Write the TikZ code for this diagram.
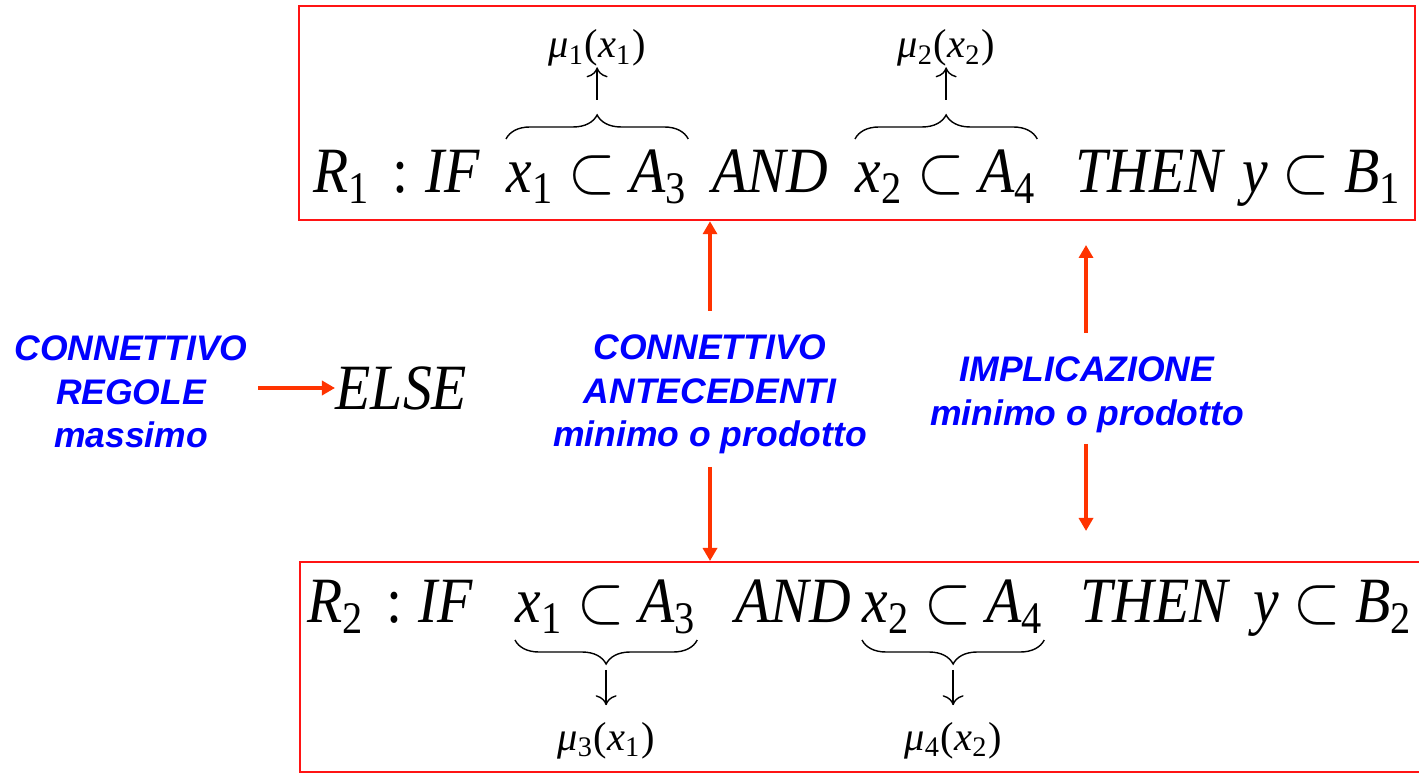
\documentclass[tikz,border=0pt]{standalone}
\usepackage{fontspec}
\setmainfont{Liberation Serif}
\newfontfamily\notesans{Liberation Sans}
\usetikzlibrary{arrows.meta,decorations.pathreplacing}

\definecolor{boxred}{RGB}{255,20,20}
\definecolor{arrowred}{RGB}{255,51,0}
\definecolor{noteblue}{RGB}{0,0,255}

\newcommand{\ix}[1]{\textsubscript{\upshape #1}}
\newcommand{\tallform}[1]{\scalebox{1}[1.12]{#1}}
\newcommand{\formfont}{\fontsize{16.4}{20}\selectfont\itshape}
\newcommand{\membfont}{\fontsize{11.5}{14}\selectfont\itshape}
\newcommand{\notefont}{\notesans\fontsize{10.1}{12.4}\selectfont\bfseries\itshape}

\begin{document}
\begin{tikzpicture}[x=0.01cm, y=0.01cm,
    formula/.style={anchor=base west, inner sep=0pt, font=\formfont},
    memb/.style={anchor=base, inner sep=0pt, font=\membfont},
    note/.style={anchor=north, inner sep=0pt, align=center, text=noteblue, font=\notefont},
    rulebox/.style={draw=boxred, line width=0.6pt, inner sep=0pt},
    arrow/.style={-{Triangle[length=1.3mm, width=1.4mm]}, draw=arrowred, line width=1pt},
    memarrow/.style={-{To[length=1mm]}, line width=0.4pt},
    brace/.style={decorate, decoration={brace, amplitude=0.24cm}, line width=0.4pt}
]
\useasboundingbox (0,0) rectangle (1419,773);

% rule frames
\node[rulebox, anchor=north west, minimum width=11.15cm, minimum height=2.14cm] (box1) at (298,768) {};
\node[rulebox, anchor=north west, minimum width=11.30cm, minimum height=2.10cm] (box2) at (299,212) {};

% first rule
\node[formula] (r1) at (313,580) {\tallform{R\ix{1}\hspace{0.38em}\upshape:}};
\node[formula] (if1) at (425,580) {\tallform{IF}};
\node[formula] (xa1) at (506,580) {\tallform{x\ix{1} $\subset$ A\ix{3}}};
\node[formula] (and1) at (712,580) {\tallform{AND}};
\node[formula] (xb1) at (855,580) {\tallform{x\ix{2} $\subset$ A\ix{4}}};
\node[formula] (then1) at (1075,580) {\tallform{THEN}};
\node[formula] (y1) at (1242,580) {\tallform{y $\subset$ B\ix{1}}};

\node[memb] (mu1) at (xa1.center |- 0,715) {μ\ix{1}\textup{(}x\ix{1}\textup{)}};
\node[memb] (mu2) at (xb1.center |- 0,715) {μ\ix{2}\textup{(}x\ix{2}\textup{)}};

\draw[brace] (xa1.west |- 0,634) -- (xa1.east |- 0,634);
\draw[brace] (xb1.west |- 0,634) -- (xb1.east |- 0,634);
\draw[memarrow] (xa1.center |- 0,673) -- (mu1.south);
\draw[memarrow] (xb1.center |- 0,673) -- (mu2.south);

% second rule
\node[formula] (r2) at (307,150) {\tallform{R\ix{2}\hspace{0.38em}\upshape:}};
\node[formula] (if2) at (418,150) {\tallform{IF}};
\node[formula] (xa2) at (515,150) {\tallform{x\ix{1} $\subset$ A\ix{3}}};
\node[formula] (and2) at (735,150) {\tallform{AND}};
\node[formula] (xb2) at (862,150) {\tallform{x\ix{2} $\subset$ A\ix{4}}};
\node[formula] (then2) at (1080,150) {\tallform{THEN}};
\node[formula] (y2) at (1253,150) {\tallform{y $\subset$ B\ix{2}}};

\node[memb] (mu3) at (xa2.center |- 0,23) {μ\ix{3}\textup{(}x\ix{1}\textup{)}};
\node[memb] (mu4) at (xb2.center |- 0,23) {μ\ix{4}\textup{(}x\ix{2}\textup{)}};

\draw[brace] (xa2.east |- 0,133) -- (xa2.west |- 0,133);
\draw[brace] (xb2.east |- 0,133) -- (xb2.west |- 0,133);
\draw[memarrow, shorten >=0.16cm] (xa2.center |- 0,103) -- (mu3.north);
\draw[memarrow, shorten >=0.16cm] (xb2.center |- 0,103) -- (mu4.north);

% connectives
\node[formula] (else) at (335,363) {\tallform{ELSE}};
\node[note] (regole) at (131,438) {CONNETTIVO\\REGOLE\\massimo};
\node[note] (antec) at (710,439) {CONNETTIVO\\ANTECEDENTI\\minimo o prodotto};
\node[note] (implic) at (1087,417) {IMPLICAZIONE\\minimo o prodotto};

\coordinate (elsetail) at (258,385);
\coordinate (antecup) at (710,462);
\coordinate (antecdown) at (710,306);
\coordinate (implup) at (1086,440);
\coordinate (impluptip) at (1086,528);
\coordinate (impldown) at (1086,329);
\coordinate (impldowntip) at (1086,242);

\draw[arrow] (elsetail) -- (else.west |- elsetail);
\draw[arrow] (antecup) -- (antecup |- box1.south);
\draw[arrow] (antecdown) -- (antecdown |- box2.north);
\draw[arrow] (implup) -- (impluptip);
\draw[arrow] (impldown) -- (impldowntip);
\end{tikzpicture}
\end{document}
